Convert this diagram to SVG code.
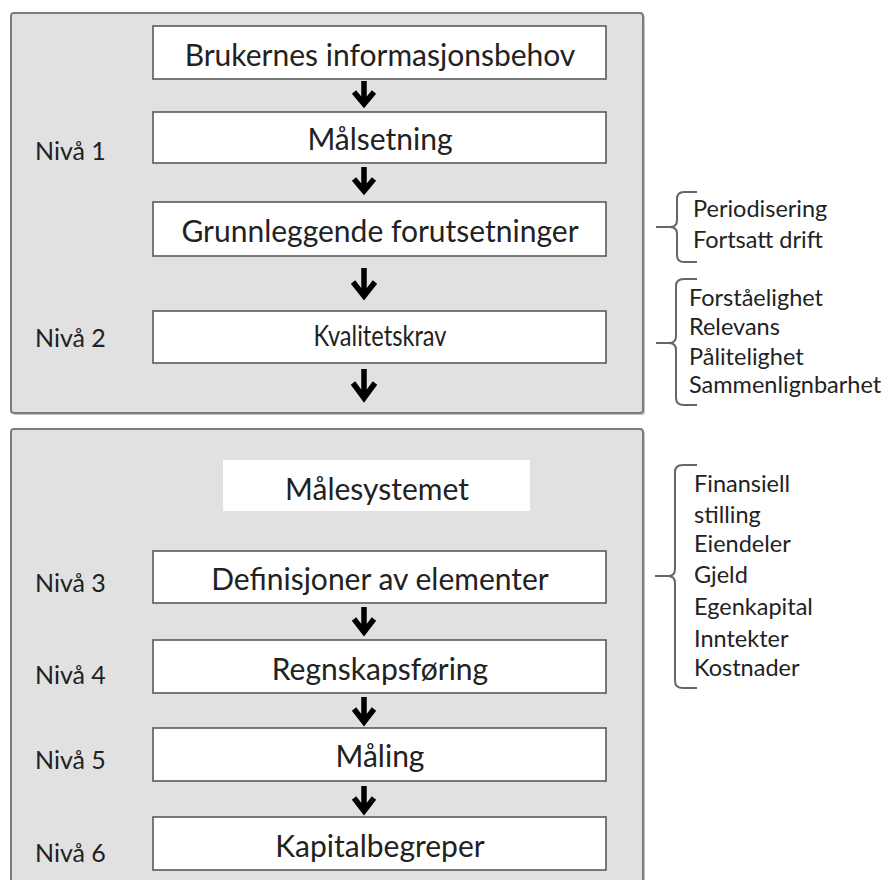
<svg xmlns="http://www.w3.org/2000/svg" width="885" height="880" viewBox="0 0 885 880">
<style>
.outer{fill:#e1e1e1;stroke:#7c7c7c;stroke-width:2}
.shadow{fill:#c4c4c4}
.box{fill:#ffffff;stroke:#5a5a5a;stroke-width:1.6}
.plain{fill:#ffffff}
.t{font-family:Lato,"Open Sans","Liberation Sans",sans-serif;fill:#222}
.main{font-size:30px;text-anchor:middle}
.lvl{font-size:25px}
.side{font-size:23.5px}
.arr{fill:none;stroke:#000;stroke-width:5.5;stroke-linejoin:miter;stroke-linecap:butt}
.brace{fill:none;stroke:#666;stroke-width:2}
</style>
<rect width="885" height="880" fill="#ffffff"/>
<g id="section1">
<rect class="shadow" x="13" y="15" width="632" height="400" rx="3"/>
<rect class="outer" x="11" y="13" width="632" height="400" rx="3"/>
</g>
<g id="section2">
<rect class="shadow" x="13" y="431" width="632" height="470" rx="3"/>
<rect class="outer" x="11" y="429" width="632" height="470" rx="3"/>
</g>
<g id="brukernes"><rect class="box" x="153" y="26" width="453" height="53"/><text class="t main" x="380" y="66">Brukernes informasjonsbehov</text></g>
<g id="malsetning"><rect class="box" x="153" y="112" width="453" height="51"/><text class="t main" x="380" y="150">Målsetning</text></g>
<g id="grunnleggende"><rect class="box" x="153" y="202" width="453" height="54"/><text class="t main" x="380" y="242">Grunnleggende forutsetninger</text></g>
<g id="kvalitetskrav"><rect class="box" x="153" y="311" width="453" height="52"/><text class="t main" x="380" y="346" style="font-size:28px" textLength="133" lengthAdjust="spacingAndGlyphs">Kvalitetskrav</text></g>
<g id="malesystemet"><rect class="plain" x="223" y="460" width="307" height="51"/><text class="t main" x="377" y="500">Målesystemet</text></g>
<g id="definisjoner"><rect class="box" x="153" y="551" width="453" height="52"/><text class="t main" x="380" y="590">Definisjoner av elementer</text></g>
<g id="regnskapsforing"><rect class="box" x="153" y="640" width="453" height="53"/><text class="t main" x="380" y="680">Regnskapsføring</text></g>
<g id="maling"><rect class="box" x="153" y="728" width="453" height="53"/><text class="t main" x="380" y="767">Måling</text></g>
<g id="kapitalbegreper"><rect class="box" x="153" y="817" width="453" height="53"/><text class="t main" x="380" y="857">Kapitalbegreper</text></g>
<g id="levels">
<text class="t lvl" x="35" y="160">Nivå 1</text>
<text class="t lvl" x="35" y="347">Nivå 2</text>
<text class="t lvl" x="35" y="592">Nivå 3</text>
<text class="t lvl" x="35" y="684">Nivå 4</text>
<text class="t lvl" x="35" y="769">Nivå 5</text>
<text class="t lvl" x="35" y="862">Nivå 6</text>
</g>
<g id="connectors">
<path class="arr" d="M364,81 V104 M354,92 L364,104 L374,92"/>
<path class="arr" d="M364,167 V191 M354,179 L364,191 L374,179"/>
<path class="arr" d="M364,268 V296 M353,282 L364,296 L375,282"/>
<path class="arr" d="M364,369 V398 M353,383 L364,398 L375,383"/>
<path class="arr" d="M364,607 V632 M354,619 L364,632 L374,619"/>
<path class="arr" d="M364,697 V722 M354,709 L364,722 L374,709"/>
<path class="arr" d="M364,786 V811 M354,798 L364,811 L374,798"/>
</g>
<g id="brace1">
<path class="brace" d="M697,192 L684,192 Q677,192 677,199 L677,220 Q677,227 670,227 L656,227 M670,227 Q677,227 677,234 L677,255 Q677,262 684,262 L697,262"/>
<text class="t side" x="693" y="217">Periodisering</text>
<text class="t side" x="693" y="248">Fortsatt drift</text>
</g>
<g id="brace2">
<path class="brace" d="M697,279 L684,279 Q676,279 676,286 L676,336 Q676,343 669,343 L656,343 M669,343 Q676,343 676,350 L676,398 Q676,405 684,405 L697,405"/>
<text class="t side" x="689" y="306">Forståelighet</text>
<text class="t side" x="689" y="335">Relevans</text>
<text class="t side" x="689" y="365">Pålitelighet</text>
<text class="t side" x="689" y="393">Sammenlignbarhet</text>
</g>
<g id="brace3">
<path class="brace" d="M697,465 L683,465 Q675,465 675,472 L675,569 Q675,576 668,576 L655,576 M668,576 Q675,576 675,583 L675,681 Q675,688 683,688 L697,688"/>
<text class="t side" x="694" y="492">Finansiell</text>
<text class="t side" x="694" y="523">stilling</text>
<text class="t side" x="694" y="552">Eiendeler</text>
<text class="t side" x="694" y="583">Gjeld</text>
<text class="t side" x="694" y="615">Egenkapital</text>
<text class="t side" x="694" y="647">Inntekter</text>
<text class="t side" x="694" y="676">Kostnader</text>
</g>
</svg>
